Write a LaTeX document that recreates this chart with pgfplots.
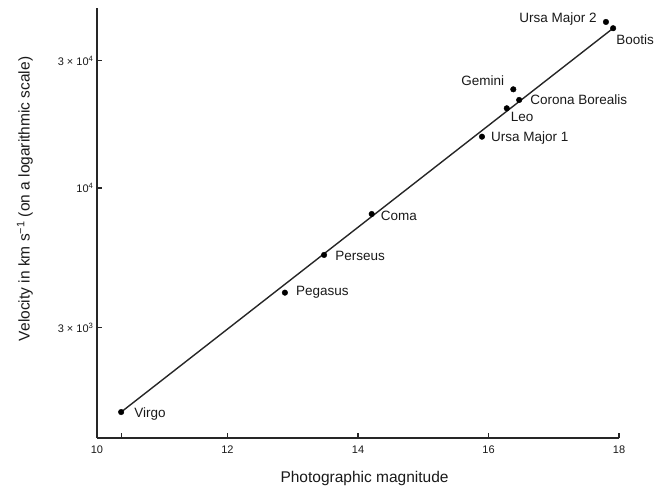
\documentclass[border=0pt]{standalone}
\usepackage{pgfplots}
\pgfplotsset{compat=1.18}
\usepackage{pgfplotstable}
\usepackage{fontspec}
\setmainfont{Liberation Sans}

% Nebulae clusters: photographic magnitude and recession velocity (km/s)
\pgfplotstableread[col sep=comma]{
mag,vel
10.37,1445
12.88,4050
13.48,5610
14.21,7990
15.90,15570
16.28,19900
16.47,21380
16.38,23440
17.80,41930
17.91,39720
}\clusters

\tikzset{cname/.style={inner sep=0pt, font=\fontsize{13.5}{16}\selectfont, color=black!90}}

\begin{document}
\begin{tikzpicture}
\begin{axis}[
  at={(0,0)}, anchor=south west,
  width=522pt, height=430pt, scale only axis,
  xmin=10, xmax=18,
  ymode=log, ymin=1155, ymax=47300,
  axis lines*=left,
  axis line style={line width=1.8pt, color=black!85},
  xtick={10,12,14,16,18},
  xticklabels={10,12,14,16,18},
  extra x ticks={10.37}, extra x tick labels={},
  ytick={3000,10000,30000},
  yticklabels={3 × 10\textsuperscript{3}, 10\textsuperscript{4}, 3 × 10\textsuperscript{4}},
  yminorticks=false,
  tick align=inside, major tick length=5pt,
  tick style={line width=1.2pt, color=black!85},
  ticklabel style={font=\fontsize{11}{13}\selectfont, color=black!90},
  xticklabel style={yshift=-4pt},
  xlabel={Photographic magnitude},
  ylabel={Velocity in km s\textsuperscript{−1} (on a logarithmic scale)},
  label style={font=\fontsize{15.5}{18}\selectfont, color=black!90},
  xlabel style={at={(axis description cs:0.5125,0)}, anchor=center, yshift=-40pt},
  ylabel style={at={(axis description cs:-0.138,0.556)}, anchor=center},
  clip=false,
]
% fitted velocity-magnitude relation
\addplot[line width=1.4pt, color=black!85] coordinates {(10.37,1445) (17.91,39720)};
% cluster positions
\addplot[only marks, mark=*, mark size=2.8pt, color=black] table[x=mag, y=vel] {\clusters};
% cluster names
\node[cname, anchor=west, xshift=13pt, yshift=-2pt] at (axis cs:10.37,1445) {Virgo};
\node[cname, anchor=west, xshift=11pt] at (axis cs:12.88,4050) {Pegasus};
\node[cname, anchor=west, xshift=11pt, yshift=-1pt] at (axis cs:13.48,5610) {Perseus};
\node[cname, anchor=west, xshift=9pt, yshift=-2pt] at (axis cs:14.21,7990) {Coma};
\node[cname, anchor=west, xshift=9pt, yshift=-1pt] at (axis cs:15.90,15570) {Ursa Major 1};
\node[cname, anchor=west, xshift=4pt, yshift=-9pt] at (axis cs:16.28,19900) {Leo};
\node[cname, anchor=west, xshift=11pt] at (axis cs:16.47,21380) {Corona Borealis};
\node[cname, anchor=east, xshift=-9pt, yshift=9pt] at (axis cs:16.38,23440) {Gemini};
\node[cname, anchor=east, xshift=-9pt, yshift=3pt] at (axis cs:17.80,41930) {Ursa Major 2};
\node[cname, anchor=west, xshift=3pt, yshift=-11pt] at (axis cs:17.91,39720) {Bootis};
\end{axis}
\pgfresetboundingbox
\path[use as bounding box] (-97pt,-52pt) rectangle (558pt,438pt);
\end{tikzpicture}
\end{document}
